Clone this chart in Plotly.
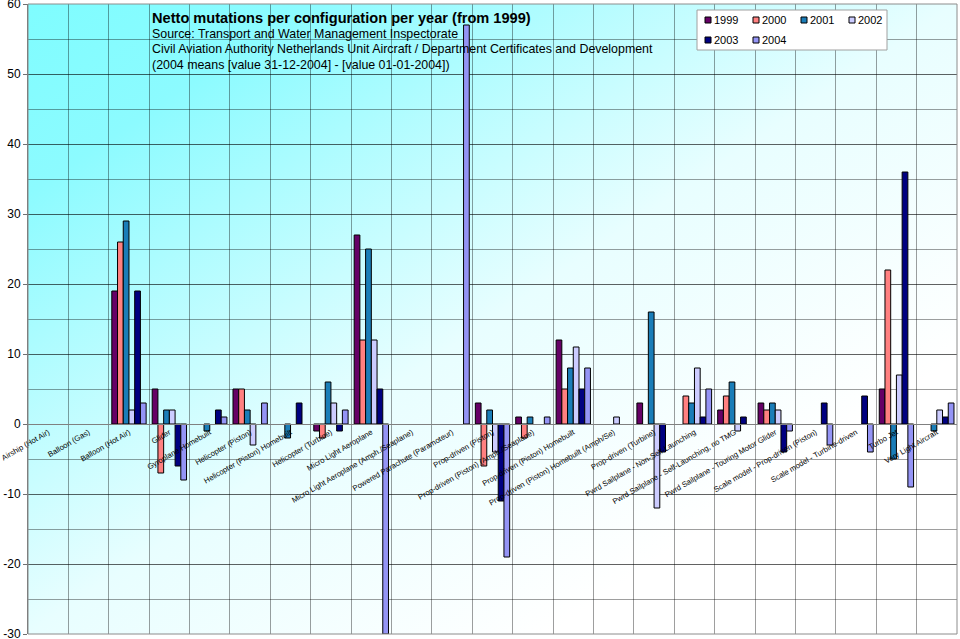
import base64
import plotly.graph_objects as go

categories = [
    "Airship (Hot Air)", "Balloon (Gas)", "Balloon (Hot Air)", "Glider",
    "Gyroplane Homebuilt", "Helicopter (Piston)", "Helicopter (Piston) Homebuilt",
    "Helicopter (Turbine)", "Micro Light Aeroplane",
    "Micro Light Aeroplane (Amph./Seaplane)", "Powered Parachute (Paramoteur)",
    "Prop-driven (Piston)", "Prop-driven (Piston) (Amph./Seaplane)",
    "Prop-driven (Piston) Homebuilt", "Prop-driven (Piston) Homebuilt (Amph/Se)",
    "Prop-driven (Turbine)", "Pwrd Sailplane - Non-Self-Launching",
    "Pwrd Sailplane - Self-Launching, no TMG", "Pwrd Sailplane - Touring Motor Glider",
    "Scale model - Prop-driven (Piston)", "Scale model - Turbine-driven",
    "Turbo Jet", "Very Light Aircraft",
]

years = ["1999", "2000", "2001", "2002", "2003", "2004"]

y1999 = [0, 0, 19, 5, 0, 5, 0, -1, 27, 0, 0, 3, 1, 12, 0, 3, 0, 2, 3, 0, 0, 5, 0]
y2000 = [0, 0, 26, -7, 0, 5, 0, -2, 12, 0, 0, -6, -2, 5, 0, 0, 4, 4, 2, 0, 0, 22, 0]
y2001 = [0, 0, 29, 2, -1, 2, -2, 6, 25, 0, 0, 2, 1, 8, 0, 16, 3, 6, 3, 0, 0, -5, -1]
y2002 = [0, 0, 2, 2, 0, -3, 0, 3, 12, 0, 0, -4, 0, 11, 1, -12, 8, -1, 2, 0, 0, 7, 2]
y2003 = [0, 0, 19, -6, 2, 0, 3, -1, 5, 0, 0, -11, 0, 5, 0, -4, 1, 1, -4, 3, 4, 36, 1]
y2004 = [0, 0, 3, -8, 1, 3, 0, 2, -30, 0, 57, -19, 1, 8, 0, 0, 5, 0, -1, -3, -4, -9, 3]

series = [y1999, y2000, y2001, y2002, y2003, y2004]
colors = ["#660066", "#FF8080", "#1A7DB8", "#CCCCFF", "#000080", "#9494F5"]

y_ticks = [-30, -20, -10, 0, 10, 20, 30, 40, 50, 60]

title_text = "Netto mutations per configuration per year (from 1999)"
subtitle_lines = [
    "Source: Transport and Water Management Inspectorate",
    "Civil Aviation Authority Netherlands Unit Aircraft / Department Certificates and Development",
    "(2004 means [value 31-12-2004] - [value 01-01-2004])",
]

W, H = 960, 639
ML, MR, MT, MB = 28, 3, 4, 5
PW, PH = W - ML - MR, H - MT - MB
FONT = "Liberation Sans, Arial, sans-serif"


def px(x):
    return (x - ML) / PW


def py(y):
    return 1 - (y - MT) / PH


fig = go.Figure()
for name, vals, col in zip(years, series, colors):
    fig.add_trace(go.Bar(
        x=categories,
        y=[v if v != 0 else None for v in vals],
        name=name,
        marker=dict(color=col, line=dict(color="black", width=1)),
        showlegend=False,
    ))

# gradient background for plot area
svg = (
    '<svg xmlns="http://www.w3.org/2000/svg" width="929" height="630" '
    'preserveAspectRatio="none" viewBox="0 0 929 630">'
    '<defs><linearGradient id="g" x1="0" y1="0" x2="1" y2="1">'
    '<stop offset="0" stop-color="#7ffdff"/>'
    '<stop offset="0.15" stop-color="#8cfbff"/>'
    '<stop offset="0.5" stop-color="#e8feff"/>'
    '<stop offset="0.78" stop-color="#ffffff"/>'
    '<stop offset="1" stop-color="#ffffff"/>'
    '</linearGradient></defs>'
    '<rect x="0" y="0" width="929" height="630" fill="url(#g)"/></svg>'
)
src = "data:image/svg+xml;base64," + base64.b64encode(svg.encode()).decode()
fig.add_layout_image(dict(
    source=src, xref="paper", yref="paper", x=0, y=1, sizex=1, sizey=1,
    sizing="stretch", xanchor="left", yanchor="top", layer="below",
))

grid = "rgba(0,0,0,0.38)"
ymin, ymax = -30, 60

fig.update_layout(
    width=W, height=H,
    margin=dict(l=ML, r=MR, t=MT, b=MB, pad=0, autoexpand=False),
    paper_bgcolor="white",
    plot_bgcolor="rgba(0,0,0,0)",
    barmode="group",
    bargap=0.15,
    bargroupgap=0,
    font=dict(family=FONT, color="black"),
    xaxis=dict(
        type="category",
        anchor="free",
        position=(0 - ymin) / (ymax - ymin),
        tickson="boundaries",
        showgrid=True, gridcolor=grid, gridwidth=1,
        showline=True, linecolor="#808080", linewidth=1,
        ticks="", tickangle=-30,
        tickfont=dict(size=7.7, family=FONT, color="black"),
        ticklabeloverflow="allow",
        automargin=False,
    ),
    yaxis=dict(
        range=[ymin, ymax],
        tickvals=y_ticks,
        ticktext=[str(v) for v in y_ticks],
        showgrid=True, gridcolor=grid, gridwidth=1,
        minor=dict(dtick=5, showgrid=True, gridcolor=grid, gridwidth=1),
        zeroline=True, zerolinecolor="#808080", zerolinewidth=1,
        showline=True, linecolor="#707070", linewidth=1,
        ticks="outside", ticklen=4, tickcolor="#707070",
        tickfont=dict(size=12, family=FONT, color="black"),
        ticklabeloverflow="allow",
        automargin=False,
    ),
)

# plot area border
fig.add_shape(type="rect", xref="paper", yref="paper", x0=0, y0=0, x1=1, y1=1,
              line=dict(color="#8c8c8c", width=1), layer="above")

# title block
fig.add_annotation(text="<b>" + title_text + "</b>", xref="paper", yref="paper",
                   x=px(150), y=py(18), xanchor="left", yanchor="middle",
                   showarrow=False, font=dict(size=14.6, family=FONT, color="black"))
for i, line in enumerate(subtitle_lines):
    fig.add_annotation(text=line, xref="paper", yref="paper",
                       x=px(150), y=py(34 + 15.5 * i), xanchor="left", yanchor="middle",
                       showarrow=False, font=dict(size=12.4, family=FONT, color="black"))

# legend box
fig.add_shape(type="rect", xref="paper", yref="paper",
              x0=px(697), x1=px(887), y0=py(50), y1=py(10),
              line=dict(color="#a0a0a0", width=1), fillcolor="white", layer="above")
for k, (name, col) in enumerate(zip(years, colors)):
    r, c = divmod(k, 4)
    sx = 705 + 48 * c
    sy = 20 + 20 * r
    fig.add_shape(type="rect", xref="paper", yref="paper",
                  x0=px(sx), x1=px(sx + 6), y0=py(sy + 3), y1=py(sy - 3),
                  line=dict(color="black", width=1), fillcolor=col, layer="above")
    fig.add_annotation(text=name, xref="paper", yref="paper",
                       x=px(sx + 7), y=py(sy), xanchor="left", yanchor="middle",
                       showarrow=False, font=dict(size=11, family=FONT, color="black"))

fig.write_html("out.html")
